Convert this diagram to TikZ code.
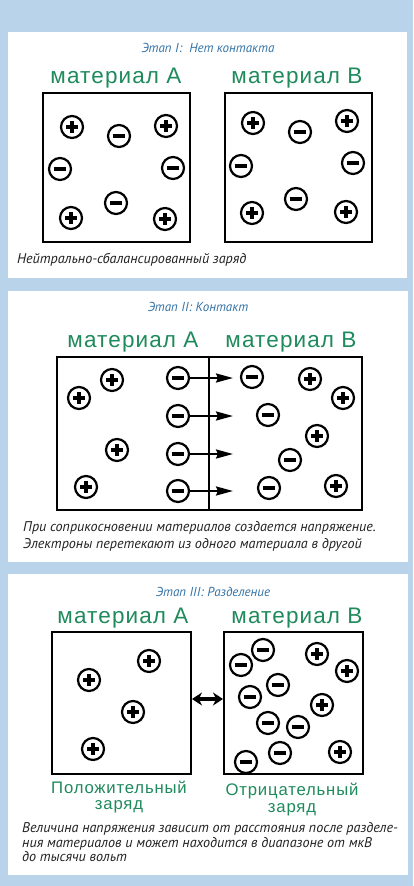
\documentclass[tikz,border=0pt]{standalone}
\usepackage{fontspec}
\usetikzlibrary{arrows.meta}
\newfontfamily\arialf[LetterSpace=5]{Liberation Sans}
\newfontfamily\capf{PT Sans}
\definecolor{bgblue}{HTML}{B9D3EA}
\definecolor{matgreen}{HTML}{1F8A5C}
\definecolor{ttlblue}{HTML}{3473A6}
\definecolor{captxt}{HTML}{222222}
\tikzset{
  chg/.style={circle, draw=black, line width=2.2pt, minimum size=22pt, inner sep=0pt, fill=white},
  pl/.style={chg, path picture={
     \draw[line width=3.2pt] ([xshift=-5.8pt]path picture bounding box.center) -- ([xshift=5.8pt]path picture bounding box.center);
     \draw[line width=3.2pt] ([yshift=-5.8pt]path picture bounding box.center) -- ([yshift=5.8pt]path picture bounding box.center);}},
  mn/.style={chg, path picture={
     \draw[line width=3.2pt] ([xshift=-6.3pt]path picture bounding box.center) -- ([xshift=6.3pt]path picture bounding box.center);}},
  matlbl/.style={anchor=base, text=matgreen, font=\arialf\fontsize{22.5}{22.5}\selectfont, inner sep=0pt},
  chglbl/.style={anchor=north, align=center, text=matgreen, font=\arialf\fontsize{16.7}{16.5}\selectfont, inner sep=0pt},
  ttl/.style={anchor=base, text=ttlblue, font=\capf\itshape\fontsize{13}{13}\selectfont, inner sep=0pt},
  captext/.style={anchor=base west, text=captxt, font=\capf\itshape\fontsize{14.1}{14.1}\selectfont, inner sep=0pt},
  matbox/.style={draw=black, line width=2pt},
  flow/.style={line width=2.4pt, -{Stealth[length=17pt,width=9pt,inset=2pt]}},
  sep/.style={line width=3.5pt, {Stealth[length=10pt,width=13pt]}-{Stealth[length=10pt,width=13pt]}},
}
\begin{document}
\begin{tikzpicture}[x=1pt,y=-1pt]
\useasboundingbox (0,0) rectangle (413,886);
\fill[bgblue] (0,0) rectangle (413,886);
\fill[white] (8,32) rectangle (407,278);
\fill[white] (8,291) rectangle (408,562);
\fill[white] (8,574) rectangle (408,875);

% ---------- Stage I ----------
\node[ttl] (t1) at (208,52) {Этап I:\ \ Нет контакта};
\node[matlbl] (m1a) at (116,83) {материал A};
\node[matlbl] (m1b) at (297,83) {материал B};
\draw[matbox] (43,93) rectangle (190,242);
\draw[matbox] (225,93) rectangle (372,242);
\node[pl] (a1) at (72,127) {};
\node[mn] (a2) at (119,136) {};
\node[pl] (a3) at (166,126) {};
\node[mn] (a4) at (60,169) {};
\node[mn] (a5) at (173,168) {};
\node[pl] (a6) at (71,218) {};
\node[mn] (a7) at (116,203) {};
\node[pl] (a8) at (165,219) {};
\node[pl] (b1) at (253,123) {};
\node[mn] (b2) at (300,132) {};
\node[pl] (b3) at (347,121) {};
\node[mn] (b4) at (241,166) {};
\node[mn] (b5) at (353,163) {};
\node[pl] (b6) at (252,213) {};
\node[mn] (b7) at (296,199) {};
\node[pl] (b8) at (346,212) {};
\node[captext] (c1) at (17,263) {Нейтрально-сбалансированный заряд};

% ---------- Stage II ----------
\node[ttl] (t2) at (198,311) {Этап II: Контакт};
\node[matlbl] (m2a) at (133,347) {материал A};
\node[matlbl] (m2b) at (291,347) {материал B};
\draw[matbox] (57,357) rectangle (362,510);
\draw[line width=2pt] (209,357) -- (209,510);
\node[pl] (p1) at (112,380) {};
\node[pl] (p2) at (79,398) {};
\node[pl] (p3) at (117,450) {};
\node[pl] (p4) at (86,487) {};
\node[mn] (e1) at (178,378) {};
\node[mn] (e2) at (178,416) {};
\node[mn] (e3) at (178,454) {};
\node[mn] (e4) at (178,491) {};
\coordinate (f1) at (233,378);
\coordinate (f2) at (233,416);
\coordinate (f3) at (233,454);
\coordinate (f4) at (233,491);
\draw[flow] (e1) -- (f1);
\draw[flow] (e2) -- (f2);
\draw[flow] (e3) -- (f3);
\draw[flow] (e4) -- (f4);
\node[mn] (q1) at (252,377) {};
\node[pl] (q2) at (310,379) {};
\node[pl] (q3) at (343,398) {};
\node[mn] (q4) at (268,415) {};
\node[pl] (q5) at (317,436) {};
\node[mn] (q6) at (290,460) {};
\node[mn] (q7) at (269,488) {};
\node[pl] (q8) at (336,486) {};
\node[captext] (c2) at (23,531) {При соприкосновении материалов создается напряжение.};
\node[captext] (c3) at (23,548) {Электроны перетекают из одного материала в другой};

% ---------- Stage III ----------
\node[ttl] (t3) at (213,596) {Этап III: Разделение};
\node[matlbl] (m3a) at (123,623) {материал A};
\node[matlbl] (m3b) at (297,623) {материал B};
\draw[matbox] (52,632) rectangle (191,774);
\draw[matbox] (224,632) rectangle (363,774);
\coordinate (sa) at (192,699);
\coordinate (sb) at (223,699);
\draw[sep] (sa) -- (sb);
\node[pl] (r1) at (149,661) {};
\node[pl] (r2) at (89,680) {};
\node[pl] (r3) at (133,712) {};
\node[pl] (r4) at (93,749) {};
\node[mn] (s1) at (241,665) {};
\node[mn] (s2) at (263,650) {};
\node[pl] (s3) at (317,654) {};
\node[pl] (s4) at (347,671) {};
\node[mn] (s5) at (278,685) {};
\node[mn] (s6) at (250,697) {};
\node[pl] (s7) at (322,705) {};
\node[mn] (s8) at (268,723) {};
\node[mn] (s9) at (298,727) {};
\node[mn] (s10) at (280,753) {};
\node[mn] (s11) at (246,762) {};
\node[pl] (s12) at (340,752) {};
\node[chglbl] (g1) at (119,780.5) {Положительный\\заряд};
\node[chglbl] (g3) at (292,783) {Отрицательный\\заряд};
\node[captext] (c4) at (22,832) {Величина напряжения зависит от расстояния после разделе-};
\node[captext] (c5) at (22,847) {ния материалов и может находится в диапазоне от мкВ};
\node[captext] (c6) at (22,861) {до тысячи вольт};
\end{tikzpicture}
\end{document}
